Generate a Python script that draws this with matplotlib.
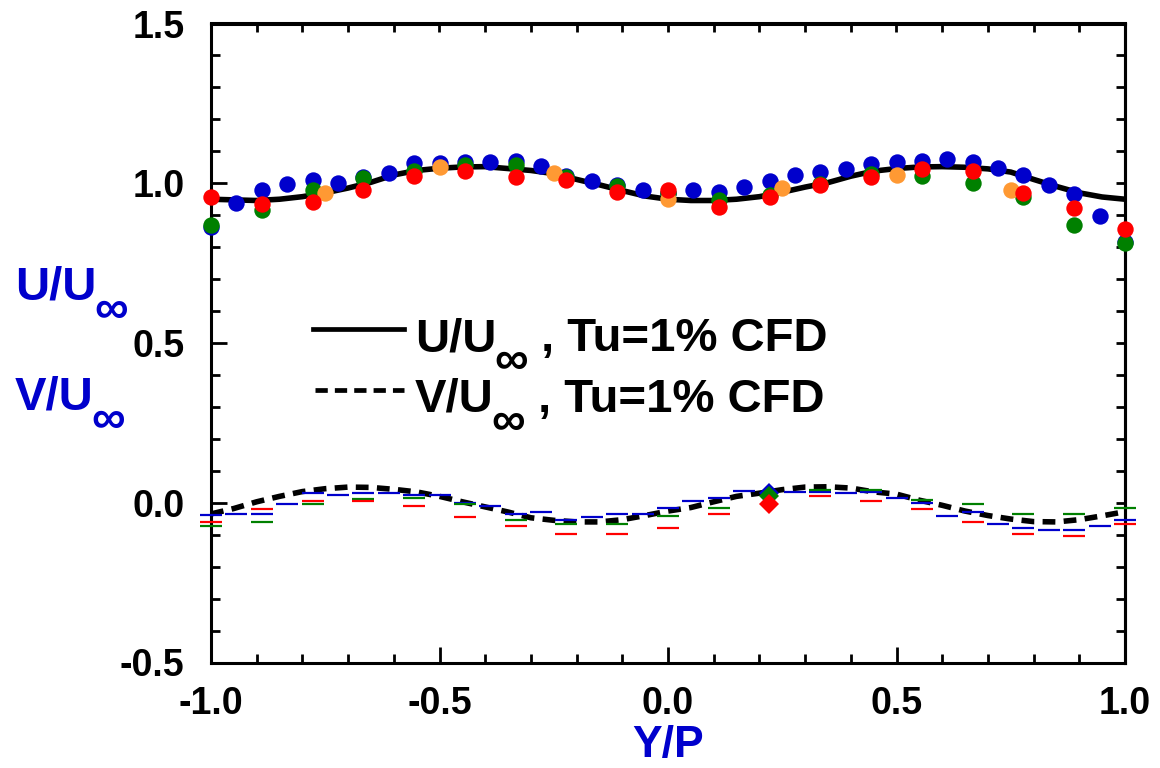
import numpy as np
import matplotlib
matplotlib.use('Agg')
import matplotlib.pyplot as plt
from matplotlib.lines import Line2D
from matplotlib.ticker import MultipleLocator, FormatStrFormatter

plt.rcParams['font.family'] = ['Liberation Sans', 'DejaVu Sans']
plt.rcParams['font.weight'] = 'bold'
plt.rcParams['axes.unicode_minus'] = False

W, H = 1160, 768

BLUE = '#0000cc'
GREEN = '#008000'
ORANGE = '#ff9933'
RED = '#ff0000'

# measurement positions Y/P
yp_fine = np.linspace(-1.0, 1.0, 37)      # blue set
yp_coarse = np.linspace(-1.0, 1.0, 19)    # green / red sets
yp_orange = [-0.75, -0.5, -0.25, 0.0, 0.25, 0.5, 0.75]
yp_diamond = [0.222]

# U/Uinf measured
u_blue = [0.862, 0.937, 0.979, 0.997, 1.010, 1.000, 1.021, 1.033, 1.063, 1.063,
          1.065, 1.065, 1.071, 1.054, 1.023, 1.008, 0.995, 0.979, 0.970, 0.979,
          0.974, 0.989, 1.008, 1.026, 1.034, 1.045, 1.061, 1.068, 1.071, 1.075,
          1.068, 1.048, 1.026, 0.995, 0.966, 0.897, 0.815]
u_green = [0.869, 0.916, 0.979, 1.016, 1.039, 1.058, 1.058, 1.021, 0.990, 0.970,
           0.948, 0.962, 0.998, 1.030, 1.023, 1.000, 0.956, 0.869, 0.813]
u_red = [0.958, 0.934, 0.942, 0.979, 1.024, 1.039, 1.021, 1.010, 0.972, 0.979,
         0.927, 0.958, 0.995, 1.021, 1.044, 1.037, 0.969, 0.921, 0.858]
u_orange = [0.970, 1.052, 1.033, 0.950, 0.986, 1.027, 0.979]

# V/Uinf measured
nan = np.nan
v_blue = [-0.039, -0.034, -0.034, -0.003, 0.029, 0.023, 0.029, 0.029, 0.025, 0.025,
          -0.001, -0.009, -0.034, -0.028, -0.053, -0.046, -0.034, -0.034, -0.015, 0.004,
          0.016, 0.036, nan, 0.035, 0.033, 0.029, 0.033, 0.016, 0.000, -0.040,
          -0.029, -0.065, -0.078, -0.084, -0.084, -0.072, -0.053]
v_green = [-0.072, -0.059, -0.003, 0.011, 0.016, -0.003, -0.053, -0.065, -0.065, -0.040,
           -0.015, nan, 0.041, 0.041, 0.010, -0.003, -0.034, -0.034, -0.015]
v_red = [-0.059, -0.021, 0.004, 0.004, -0.009, -0.046, -0.072, -0.097, -0.097, -0.078,
         -0.034, nan, 0.022, 0.004, -0.021, -0.059, -0.097, -0.103, -0.065]
v_diamond_blue = [0.031]
v_diamond_green = [0.020]
v_diamond_red = [-0.004]

# CFD, Tu=1%
cfd_yp = np.linspace(-1.0, 1.0, 41)
cfd_u = [0.950, 0.948, 0.946, 0.950, 0.958, 0.970, 0.985, 1.003, 1.026, 1.040,
         1.047, 1.051, 1.052, 1.046, 1.040, 1.030, 1.012, 0.995, 0.977, 0.960,
         0.950, 0.946, 0.946, 0.950, 0.958, 0.972, 0.988, 1.002, 1.022, 1.038,
         1.046, 1.051, 1.052, 1.050, 1.045, 1.035, 1.012, 0.990, 0.970, 0.957, 0.950]
cfd_v = [-0.035, -0.018, 0.003, 0.020, 0.035, 0.044, 0.049, 0.048, 0.042, 0.034,
         0.020, 0.003, -0.013, -0.029, -0.047, -0.055, -0.060, -0.060, -0.053, -0.040,
         -0.026, -0.015, 0.003, 0.020, 0.030, 0.041, 0.049, 0.050, 0.046, 0.034,
         0.027, 0.008, -0.008, -0.026, -0.040, -0.051, -0.059, -0.060, -0.053, -0.041, -0.028]

fig = plt.figure(figsize=(W / 100, H / 100), dpi=100)
ax = fig.add_axes([211 / W, 1 - 662.5 / H, 914 / W, 639 / H])

ax.plot(cfd_yp, cfd_u, color='k', lw=4, zorder=2)
ax.plot(cfd_yp, cfd_v, color='k', lw=4, dashes=(2.3, 1.5), zorder=2)

dash_kw = dict(ls='none', marker='_', markersize=15.6, markeredgewidth=1.6, clip_on=False, zorder=3)
ax.plot(yp_fine, v_blue, color=BLUE, **dash_kw)
ax.plot(yp_coarse, v_green, color=GREEN, **dash_kw)
ax.plot(yp_coarse, v_red, color=RED, **dash_kw)

dia_kw = dict(ls='none', marker='D', markersize=10, markeredgewidth=0, clip_on=False, zorder=4)
ax.plot(yp_diamond, v_diamond_blue, color=BLUE, **dia_kw)
ax.plot(yp_diamond, v_diamond_green, color=GREEN, **dia_kw)
ax.plot(yp_diamond, v_diamond_red, color=RED, **dia_kw)

dot_kw = dict(ls='none', marker='o', markersize=11.8, markeredgewidth=0, clip_on=False, zorder=4)
ax.plot(yp_fine, u_blue, color=BLUE, **dot_kw)
ax.plot(yp_coarse, u_green, color=GREEN, **dot_kw)
ax.plot(yp_orange, u_orange, color=ORANGE, **dot_kw)
ax.plot(yp_coarse, u_red, color=RED, **dot_kw)

ax.set_xlim(-1.0, 1.0)
ax.set_ylim(-0.5, 1.5)
ax.xaxis.set_major_locator(MultipleLocator(0.5))
ax.xaxis.set_minor_locator(MultipleLocator(0.1))
ax.yaxis.set_major_locator(MultipleLocator(0.5))
ax.yaxis.set_minor_locator(MultipleLocator(0.1))
ax.xaxis.set_major_formatter(FormatStrFormatter('%.1f'))
ax.yaxis.set_major_formatter(FormatStrFormatter('%.1f'))
for s in ax.spines.values():
    s.set_linewidth(2.2)
ax.tick_params(which='both', direction='in', width=2, labelsize=27)
ax.tick_params(which='major', length=11.5)
ax.tick_params(which='minor', length=6.5)
ax.tick_params(axis='x', which='major', pad=17)
ax.tick_params(axis='y', which='major', pad=19)

top = ax.secondary_xaxis('top')
top.set_xticks(np.arange(-1.0, 1.01, 0.1))
top.set_xticklabels([])
top.tick_params(direction='in', length=6.5, width=2)
top.spines['top'].set_linewidth(2.2)
right = ax.secondary_yaxis('right')
right.set_yticks(np.arange(-0.5, 1.51, 0.1))
right.set_yticklabels([])
right.tick_params(direction='in', length=6.5, width=2)
right.spines['right'].set_linewidth(2.2)

renderer = fig.canvas.get_renderer()


def inf_label(x, base, head, tail, color):
    t1 = fig.text(x / W, 1 - base / H, head, color=color, fontsize=34,
                  ha='left', va='baseline')
    x1 = t1.get_window_extent(renderer).x1
    t2 = fig.text((x1 - 2) / W, 1 - (base + 23) / H, '\u221e', color=color,
                  fontsize=34, ha='left', va='baseline')
    if tail:
        x2 = t2.get_window_extent(renderer).x1
        fig.text(x2 / W, 1 - base / H, tail, color=color, fontsize=34,
                 ha='left', va='baseline')


# axis titles
inf_label(15, 300, 'U/U', '', BLUE)
inf_label(15, 410, 'V/U', '', BLUE)
fig.text(668 / W, 1 - 757 / H, 'Y/P', color=BLUE, fontsize=32, ha='center', va='baseline')

# legend
fig.add_artist(Line2D([313 / W, 404 / W], [1 - 329 / H, 1 - 329 / H], color='k', lw=3.4))
fig.add_artist(Line2D([315 / W, 404 / W], [1 - 390 / H, 1 - 390 / H], color='k', lw=3.4,
                      dashes=(2.6, 1.5)))
inf_label(415, 351, 'U/U', ' , Tu=1% CFD', 'k')
inf_label(415, 412, 'V/U', ' , Tu=1% CFD', 'k')

fig.savefig('out.png', dpi=100)
